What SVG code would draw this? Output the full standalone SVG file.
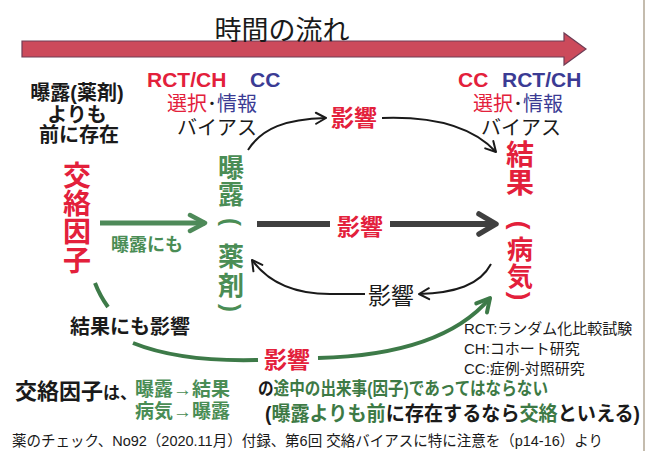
<svg xmlns="http://www.w3.org/2000/svg" width="649" height="451" viewBox="0 0 649 451">
<defs>
<style>
text{font-family:"Liberation Sans","Noto Sans CJK JP",sans-serif;}
.b{font-weight:bold;}
.red{fill:#e3203b;}
.blue{fill:#3b3b94;}
.blk{fill:#1a1a1a;}
.grn{fill:#4a8d55;}
.dg{fill:#3d7a45;}
.thin{fill:none;stroke:#1a1a1a;stroke-width:2;}
.par{font-family:"Liberation Sans",sans-serif;font-weight:bold;text-anchor:middle;dominant-baseline:central;}
</style>
<marker id="mBlk" viewBox="0 0 14 14" refX="12" refY="7" markerWidth="14" markerHeight="14" markerUnits="userSpaceOnUse" orient="auto">
<path d="M2,1.5 L12,7 L2,12.5" fill="none" stroke="#1a1a1a" stroke-width="2" stroke-linecap="round" stroke-linejoin="round"/>
</marker>
<marker id="mGray" viewBox="0 0 26 26" refX="22" refY="13" markerWidth="26" markerHeight="26" markerUnits="userSpaceOnUse" orient="auto">
<path d="M5,3 L22,13 L5,23" fill="none" stroke="#3f3f3f" stroke-width="5.5" stroke-linecap="round" stroke-linejoin="round"/>
</marker>
<marker id="mGrn" viewBox="0 0 22 22" refX="19" refY="11" markerWidth="22" markerHeight="22" markerUnits="userSpaceOnUse" orient="auto">
<path d="M4,3 L19,11 L4,19" fill="none" stroke="#4e8a59" stroke-width="4.5" stroke-linecap="round" stroke-linejoin="round"/>
</marker>
<marker id="mDg" viewBox="0 0 20 20" refX="17" refY="10" markerWidth="20" markerHeight="20" markerUnits="userSpaceOnUse" orient="auto">
<path d="M4,3 L17,10 L4,17" fill="none" stroke="#3d7a48" stroke-width="4" stroke-linecap="round" stroke-linejoin="round"/>
</marker>
</defs>
<rect x="0" y="0" width="649" height="451" fill="#ffffff"/>
<line x1="644" y1="0" x2="644" y2="451" stroke="#c4bcae" stroke-width="2"/>

<g id="timeline">
<path d="M22,41 L564,41 L564,33 L586,49 L564,65 L564,57 L22,57 Z" fill="#cc4a5b" stroke="#6e3d55" stroke-width="1.2"/>
<text x="282" y="40" font-size="27" text-anchor="middle" class="blk">時間の流れ</text>
</g>

<g id="left-note">
<text x="77" y="100" font-size="20" text-anchor="middle" class="b blk">曝露(薬剤)</text>
<text x="77" y="122" font-size="20" text-anchor="middle" class="b blk">よりも</text>
<text x="79" y="142" font-size="20" text-anchor="middle" class="b blk">前に存在</text>
</g>

<g id="bias-left">
<text x="147" y="87" font-size="21" class="b"><tspan class="red">RCT/CH</tspan><tspan class="blue" x="250">CC</tspan></text>
<text x="167" y="111" font-size="20"><tspan class="red">選択</tspan><tspan class="blk">･</tspan><tspan class="blue">情報</tspan></text>
<text x="217" y="135" font-size="20" text-anchor="middle" class="blk">バイアス</text>
</g>

<g id="bias-right">
<text x="458" y="87" font-size="21" class="b"><tspan class="red">CC</tspan><tspan class="blue" x="502">RCT/CH</tspan></text>
<text x="473" y="111" font-size="20"><tspan class="red">選択</tspan><tspan class="blk">･</tspan><tspan class="blue">情報</tspan></text>
<text x="521" y="135" font-size="20" text-anchor="middle" class="blk">バイアス</text>
</g>

<g id="confounder">
<text font-size="28" text-anchor="middle" class="b red"><tspan x="77" y="186">交</tspan><tspan x="77" y="214">絡</tspan><tspan x="77" y="242">因</tspan><tspan x="77" y="271">子</tspan></text>
</g>

<g id="exposure">
<text font-size="26" text-anchor="middle" class="b grn"><tspan x="231" y="177">曝</tspan><tspan x="231" y="204">露</tspan><tspan x="231" y="266">薬</tspan><tspan x="231" y="295">剤</tspan></text>
<text class="par grn" font-size="24" transform="translate(231,222) rotate(90)">(</text>
<text class="par grn" font-size="24" transform="translate(231,308) rotate(90)">)</text>
</g>

<g id="outcome">
<text font-size="28" text-anchor="middle" class="b red"><tspan x="520" y="165">結</tspan><tspan x="520" y="193">果</tspan></text>
<text font-size="26" text-anchor="middle" class="b red"><tspan x="520" y="259">病</tspan><tspan x="520" y="286">気</tspan></text>
<text class="par red" font-size="26" transform="translate(520,225) rotate(90)">(</text>
<text class="par red" font-size="26" transform="translate(520,296) rotate(90)">)</text>
</g>

<g id="connectors">
<path class="thin" d="M248,150 C262,128 286,119 326,118" marker-end="url(#mBlk)"/>
<path class="thin" d="M382,118 C438,116 474,128 496,152" marker-end="url(#mBlk)"/>
<text x="354" y="126" font-size="23" text-anchor="middle" class="b red">影響</text>

<line x1="257" y1="224" x2="330" y2="224" stroke="#3f3f3f" stroke-width="6"/>
<line x1="390" y1="224" x2="496" y2="224" stroke="#3f3f3f" stroke-width="6" marker-end="url(#mGray)"/>
<text x="360" y="235" font-size="23" text-anchor="middle" class="b red">影響</text>

<line x1="100" y1="223" x2="205" y2="223" stroke="#4e8a59" stroke-width="5" marker-end="url(#mGrn)"/>
<text x="147" y="251" font-size="18" text-anchor="middle" class="b grn">曝露にも</text>

<path class="thin" d="M491,264 C480,285 455,293 419,294" marker-end="url(#mBlk)"/>
<text x="391" y="304" font-size="23" text-anchor="middle" class="blk">影響</text>
<path class="thin" d="M365,294 L330,294 C295,294 268,282 252,260" marker-end="url(#mBlk)"/>

<path d="M95,283 Q100,296 108,307" fill="none" stroke="#3d7a48" stroke-width="4"/>
<path d="M133,343 Q180,362 258,360" fill="none" stroke="#3d7a48" stroke-width="4"/>
<path d="M318,358 C400,356 458,336 490,298" fill="none" stroke="#3d7a48" stroke-width="4" marker-end="url(#mDg)"/>
<text x="130" y="334" font-size="20" text-anchor="middle" class="b blk">結果にも影響</text>
<text x="287" y="368" font-size="23" text-anchor="middle" class="b red">影響</text>
</g>

<g id="legend">
<text x="464" y="334" font-size="15" class="blk">RCT:ランダム化比較試験</text>
<text x="464" y="354" font-size="15" class="blk">CH:コホート研究</text>
<text x="464" y="374" font-size="15" class="blk">CC:症例-対照研究</text>
</g>

<g id="conclusion">
<text x="15" y="399" class="b blk"><tspan font-size="22">交絡因子</tspan><tspan font-size="17">は、</tspan></text>
<text x="135" y="396" font-size="19" class="b grn">曝露→結果</text>
<text x="135" y="418" font-size="19" class="b grn">病気→曝露</text>
<text x="258" y="395" font-size="18" class="b" textLength="290" lengthAdjust="spacingAndGlyphs"><tspan class="blk">の</tspan><tspan class="dg">途中の出来事(因子)であってはならない</tspan></text>
<text x="265" y="421" font-size="20" class="b" textLength="375" lengthAdjust="spacingAndGlyphs"><tspan class="blk">(</tspan><tspan class="dg">曝露よりも前</tspan><tspan class="blk">に存在するなら</tspan><tspan class="dg">交絡</tspan><tspan class="blk">といえる)</tspan></text>
</g>

<g id="footer">
<text x="12" y="446" font-size="15" class="blk" textLength="591" lengthAdjust="spacingAndGlyphs">薬のチェック、No92（2020.11月）付録、第6回 交絡バイアスに特に注意を（p14-16）より</text>
</g>
</svg>
